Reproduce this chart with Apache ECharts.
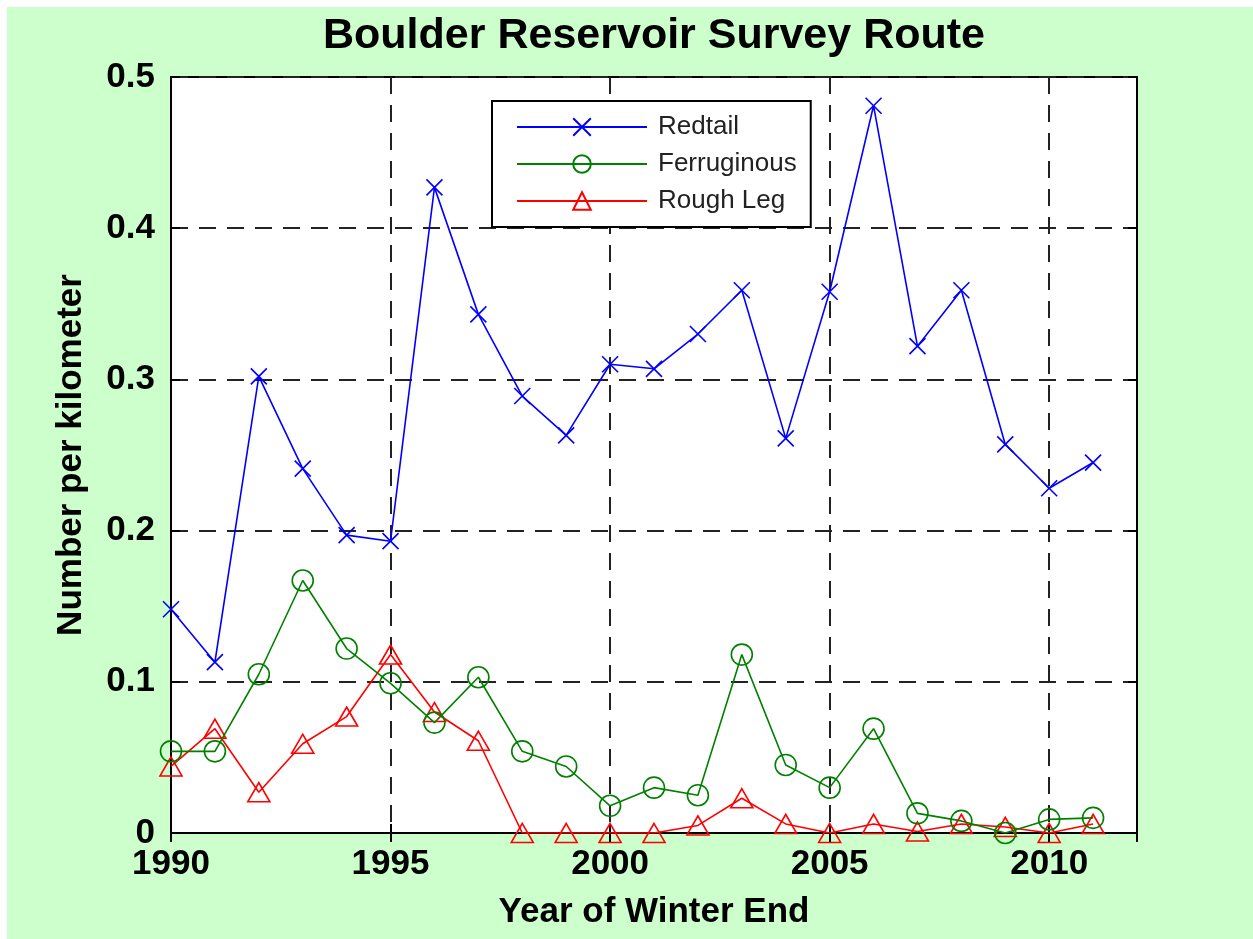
<!DOCTYPE html>
<html>
<head>
<meta charset="utf-8">
<title>Boulder Reservoir Survey Route</title>
<script src="https://cdn.jsdelivr.net/npm/echarts@6/dist/echarts.min.js"></script>
<style>
  html, body { margin: 0; padding: 0; background: #ffffff; }
  #chart { position: absolute; left: 7px; top: 7px; width: 1246px; height: 932px; }
</style>
</head>
<body>
<div id="chart"></div>
<script>
  // winter end years
  var years = [1990, 1991, 1992, 1993, 1994, 1995, 1996, 1997, 1998, 1999, 2000,
               2001, 2002, 2003, 2004, 2005, 2006, 2007, 2008, 2009, 2010, 2011]
  // number per kilometer
  var redtail = [0.148, 0.113, 0.302, 0.241, 0.197, 0.193, 0.427, 0.343, 0.289, 0.263, 0.310,
                 0.307, 0.330, 0.359, 0.261, 0.358, 0.481, 0.322, 0.359, 0.257, 0.228, 0.245]
  var ferruginous = [0.054, 0.054, 0.105, 0.167, 0.122, 0.099, 0.073, 0.103, 0.054, 0.044, 0.018,
                     0.030, 0.025, 0.118, 0.045, 0.030, 0.069, 0.013, 0.008, 0.000, 0.009, 0.010]
  var roughLeg = [0.044, 0.069, 0.027, 0.059, 0.077, 0.118, 0.080, 0.061, 0.000, 0.000, 0.000,
                  0.000, 0.005, 0.023, 0.006, 0.000, 0.006, 0.001, 0.006, 0.004, 0.000, 0.006]
  var yTicks = [0, 0.1, 0.2, 0.3, 0.4, 0.5]

  var font = 'Liberation Sans, Arial, Helvetica, sans-serif'

  function pairs(vals) {
    return years.map(function (y, i) { return [y, vals[i]] })
  }

  var chart = echarts.init(document.getElementById('chart'))

  var gridLine = { show: true, lineStyle: { color: '#222', width: 2, type: [17, 11] } }
  var boxTick = { show: true, inside: true, length: 9, lineStyle: { color: '#000', width: 2 } }

  var option = {
    backgroundColor: '#CCFFCC',
    animation: false,
    title: {
      text: 'Boulder Reservoir Survey Route',
      left: 642,
      textAlign: 'center',
      top: 3,
      textStyle: { fontFamily: font, fontWeight: 'bold', fontSize: 43, color: '#000' }
    },
    legend: {
      orient: 'vertical',
      left: 485,
      top: 94,
      padding: [13, 14, 13, 24],
      itemWidth: 130,
      itemHeight: 22,
      itemGap: 11,
      backgroundColor: '#fff',
      borderColor: '#000',
      borderWidth: 2,
      textStyle: { fontFamily: font, fontSize: 26, color: '#222', padding: [0, 0, 0, 6] },
      data: ['Redtail', 'Ferruginous', 'Rough Leg']
    },
    grid: {
      left: 164,
      top: 70,
      right: 116,
      bottom: 106,
      show: true,
      backgroundColor: '#fff',
      borderColor: '#000',
      borderWidth: 2
    },
    xAxis: [{
      type: 'value',
      min: 1990,
      max: 2012,
      interval: 5,
      name: 'Year of Winter End',
      nameLocation: 'middle',
      nameGap: 62,
      nameTextStyle: { fontFamily: font, fontWeight: 'bold', fontSize: 35, color: '#000' },
      axisLine: { show: true, lineStyle: { color: '#000', width: 2 } },
      axisTick: boxTick,
      axisLabel: {
        fontFamily: font, fontWeight: 'bold', fontSize: 35, color: '#000', margin: 14,
        showMaxLabel: false,
        formatter: function (v) { return String(v) }
      },
      splitLine: gridLine
    }, {
      type: 'value',
      position: 'top',
      min: 1990,
      max: 2012,
      interval: 5,
      axisLine: { show: true, lineStyle: { color: '#000', width: 2 } },
      axisTick: boxTick,
      axisLabel: { show: false },
      splitLine: { show: false }
    }],
    yAxis: [{
      type: 'value',
      min: yTicks[0],
      max: yTicks[yTicks.length - 1],
      interval: 0.1,
      name: 'Number per kilometer',
      nameLocation: 'middle',
      nameGap: 82,
      nameTextStyle: { fontFamily: font, fontWeight: 'bold', fontSize: 35, color: '#000' },
      axisLine: { show: true, lineStyle: { color: '#000', width: 2 } },
      axisTick: boxTick,
      axisLabel: { fontFamily: font, fontWeight: 'bold', fontSize: 35, color: '#000', margin: 16 },
      splitLine: gridLine
    }, {
      type: 'value',
      position: 'right',
      min: yTicks[0],
      max: yTicks[yTicks.length - 1],
      interval: 0.1,
      axisLine: { show: true, lineStyle: { color: '#000', width: 2 } },
      axisTick: boxTick,
      axisLabel: { show: false },
      splitLine: { show: false }
    }],
    series: [
      {
        name: 'Redtail',
        type: 'line',
        data: pairs(redtail),
        symbol: 'path://M0,0L10,10M10,0L0,10',
        symbolSize: 16,
        lineStyle: { color: '#0000FF', width: 1.6 },
        itemStyle: { color: 'rgba(0,0,0,0)', borderColor: '#0000FF', borderWidth: 1.6 },
        z: 5
      },
      {
        name: 'Ferruginous',
        type: 'line',
        data: pairs(ferruginous),
        symbol: 'circle',
        symbolSize: 21,
        lineStyle: { color: '#008000', width: 1.6 },
        itemStyle: { color: 'rgba(0,0,0,0)', borderColor: '#008000', borderWidth: 1.6 },
        z: 4
      },
      {
        name: 'Rough Leg',
        type: 'line',
        data: pairs(roughLeg),
        symbol: 'path://M5,0L10,8.66L0,8.66Z',
        symbolSize: [22, 19],
        lineStyle: { color: '#FF0000', width: 1.6 },
        itemStyle: { color: 'rgba(0,0,0,0)', borderColor: '#FF0000', borderWidth: 1.6 },
        z: 3
      }
    ]
  }

  chart.setOption(option)
</script>
</body>
</html>
